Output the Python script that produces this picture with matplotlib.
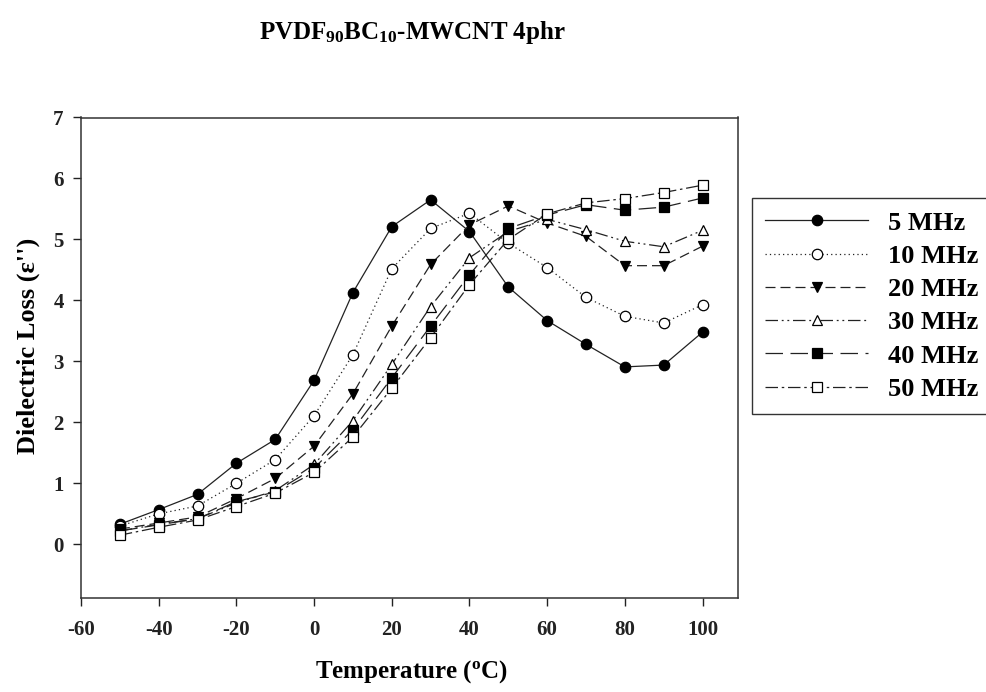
import matplotlib
matplotlib.use("Agg")
import matplotlib.pyplot as plt

plt.rcParams['font.family'] = ['Liberation Serif', 'DejaVu Serif']
plt.rcParams['font.weight'] = 'bold'
plt.rcParams['axes.labelweight'] = 'bold'
plt.rcParams['axes.unicode_minus'] = False
plt.rcParams['mathtext.fontset'] = 'custom'
plt.rcParams['mathtext.rm'] = 'Liberation Serif:bold'
plt.rcParams['mathtext.it'] = 'Liberation Serif:bold'
plt.rcParams['mathtext.bf'] = 'Liberation Serif:bold'

# data
temps = [-50, -40, -30, -20, -10, 0, 10, 20, 30, 40, 50, 60, 70, 80, 90, 100]
f5 = [0.33, 0.57, 0.82, 1.33, 1.72, 2.69, 4.13, 5.21, 5.65, 5.13, 4.22, 3.67, 3.28, 2.91, 2.94, 3.48]
f10 = [0.30, 0.50, 0.63, 1.00, 1.39, 2.11, 3.11, 4.52, 5.18, 5.43, 4.94, 4.54, 4.05, 3.74, 3.63, 3.93]
f20 = [0.25, 0.35, 0.45, 0.75, 1.08, 1.61, 2.47, 3.58, 4.59, 5.24, 5.55, 5.27, 5.05, 4.57, 4.57, 4.89]
f30 = [0.22, 0.33, 0.42, 0.68, 0.88, 1.31, 2.03, 2.95, 3.90, 4.70, 5.13, 5.33, 5.16, 4.97, 4.88, 5.15]
f40 = [0.22, 0.32, 0.42, 0.70, 0.86, 1.25, 1.88, 2.73, 3.58, 4.42, 5.18, 5.40, 5.57, 5.48, 5.53, 5.68]
f50 = [0.15, 0.28, 0.40, 0.62, 0.84, 1.18, 1.76, 2.56, 3.39, 4.26, 5.00, 5.42, 5.60, 5.67, 5.77, 5.89]
labels = ['5 MHz', '10 MHz', '20 MHz', '30 MHz', '40 MHz', '50 MHz']
x_ticks = [-60, -40, -20, 0, 20, 40, 60, 80, 100]
y_ticks = [0, 1, 2, 3, 4, 5, 6, 7]

series = [f5, f10, f20, f30, f40, f50]
styles = [
    ('-', 'o', 'black'),
    ((0, (1, 2.5)), 'o', 'white'),
    ((0, (8, 4)), 'v', 'black'),
    ((0, (10, 3, 1.5, 3, 1.5, 3)), '^', 'white'),
    ((0, (14, 6)), 's', 'black'),
    ((0, (10, 3, 2, 3)), 's', 'white'),
]

fig = plt.figure(figsize=(9.86, 6.92), dpi=100)
ax = fig.add_axes([81 / 986, 1 - 598 / 692, (737.5 - 81) / 986, (598 - 117.5) / 692])

for ys, lab, (ls, mk, fc) in zip(series, labels, styles):
    ax.plot(temps, ys, linestyle=ls, color='#222222', lw=0.9,
            marker=mk, markersize=7.5, markerfacecolor=fc,
            markeredgecolor='black', markeredgewidth=0.9, label=lab)

ax.set_xlim(-60, 109)
ax.set_ylim(-0.88, 7)
ax.set_xticks(x_ticks)
ax.set_yticks(y_ticks)
ax.tick_params(direction='out', length=5.5, width=1, labelsize=15,
               top=False, right=False, pad=7, colors='#222222')
ax.tick_params(axis='x', pad=10)
for s in ax.spines.values():
    s.set_linewidth(1.1)
    s.set_color('#333333')

ax.set_xlabel('Temperature ($^{\\mathrm{o}}$C)', fontsize=18, fontweight='bold')
ax.set_ylabel("Dielectric Loss (ε'')", fontsize=19, fontweight='bold')
ax.xaxis.set_label_coords(0.503, -0.125)
ax.yaxis.set_label_coords(-0.062, 0.524)

fig.text(412 / 986, 1 - 39 / 692, 'PVDF$_{90}$BC$_{10}$-MWCNT 4phr',
         ha='center', va='baseline', fontsize=18, fontweight='bold')

leg = fig.legend(loc='upper left', bbox_to_anchor=(752 / 986, 1 - 198 / 692),
                 frameon=True, fancybox=False, edgecolor='#333333', framealpha=1,
                 borderaxespad=0, borderpad=0.5, handlelength=3.9,
                 handletextpad=0.75, labelspacing=0.37, fontsize=19)
leg.get_frame().set_linewidth(1.0)

fig.savefig('out.png', dpi=100)
